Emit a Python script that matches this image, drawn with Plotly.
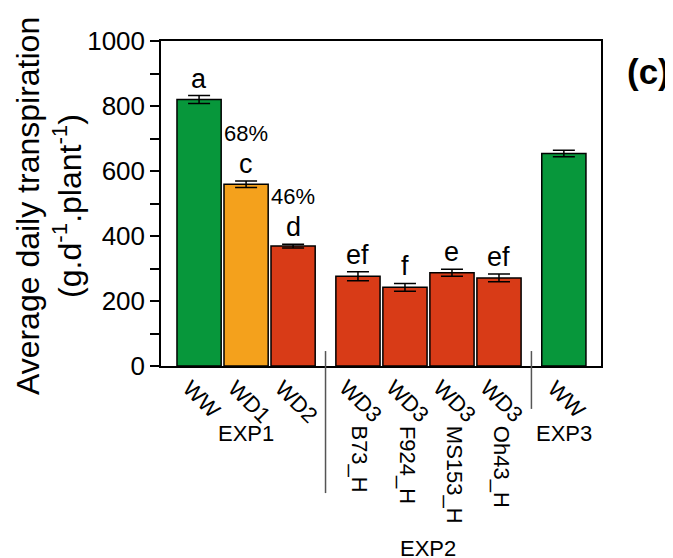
import plotly.graph_objects as go

# ---- data ----
treatments = ["WW", "WD1", "WD2", "WD3", "WD3", "WD3", "WD3", "WW"]
genotypes = ["", "", "", "B73_H", "F924_H", "MS153_H", "Oh43_H", ""]
experiments = ["EXP1", "EXP1", "EXP1", "EXP2", "EXP2", "EXP2", "EXP2", "EXP3"]
transpiration = [820, 559, 369, 276, 242, 287, 271, 654]
errors = [12, 10, 6, 14, 12, 11, 12, 10]
letters = ["a", "c", "d", "ef", "f", "e", "ef", ""]
pct_labels = ["", "68%", "46%", "", "", "", "", ""]
y_ticks = [0, 200, 400, 600, 800, 1000]

# ---- layout helpers ----
FONT = "Liberation Sans, Arial, sans-serif"
color_map = {"WW": "#07973b", "WD1": "#f4a11c", "WD2": "#d83b17", "WD3": "#d83b17"}
group_gap = 0.38
groups = []
for e in experiments:
    if e not in groups:
        groups.append(e)
xpos = [i + group_gap * groups.index(e) for i, e in enumerate(experiments)]

fig = go.Figure()
fig.add_trace(go.Bar(
    x=xpos, y=transpiration, width=0.94,
    marker=dict(color=[color_map[t] for t in treatments],
                line=dict(color="black", width=1.5)),
    error_y=dict(type="data", array=errors, visible=True,
                 color="black", thickness=1.5, width=11),
    hoverinfo="skip",
))

ann = []
# significance letters and percentages
for x, v, e, l, p in zip(xpos, transpiration, errors, letters, pct_labels):
    if l:
        ann.append(dict(x=x, y=v + e, text=l, showarrow=False, xanchor="center",
                        yanchor="bottom", yshift=0, font=dict(size=27, color="black", family=FONT)))
    if p:
        ann.append(dict(x=x, y=v + e, text=p, showarrow=False, xanchor="center",
                        yanchor="bottom", yshift=33, font=dict(size=22, color="black", family=FONT)))
# rotated treatment labels
for x, t in zip(xpos, treatments):
    ann.append(dict(x=x, y=-0.02, yref="paper", text=t, textangle=45, showarrow=False,
                    xanchor="center", yanchor="top", xshift=3,
                    font=dict(size=22, color="black", family=FONT)))
# genotype labels
for x, g in zip(xpos, genotypes):
    if g:
        ann.append(dict(x=x, y=-0.178, yref="paper", text=g, textangle=90, showarrow=False,
                        xanchor="center", yanchor="top", xshift=2,
                        font=dict(size=22, color="black", family=FONT)))
# experiment labels
for gname in groups:
    xs = [x for x, e in zip(xpos, experiments) if e == gname]
    yy = -0.563 if gname == "EXP2" else -0.209
    ann.append(dict(x=sum(xs) / len(xs), y=yy, yref="paper", text=gname, showarrow=False,
                    xanchor="center", yanchor="middle",
                    font=dict(size=22, color="black", family=FONT)))
# y-axis title
ann.append(dict(x=-0.2545, y=0.492, xref="paper", yref="paper",
                text="Average daily transpiration<br>(g.d<sup>-1</sup>.plant<sup>-1</sup>)",
                textangle=-90, showarrow=False, xanchor="center", yanchor="middle",
                font=dict(size=32, color="black", family=FONT)))
# panel label
ann.append(dict(x=1.107, y=0.905, xref="paper", yref="paper", text="<b>(c)</b>",
                showarrow=False, xanchor="center", yanchor="middle",
                font=dict(size=35, color="black", family=FONT)))

# group separators
shapes = []
sep_bottoms = [-0.391, -0.132]
for k in range(len(groups) - 1):
    last = max(x for x, e in zip(xpos, experiments) if e == groups[k])
    first = min(x for x, e in zip(xpos, experiments) if e == groups[k + 1])
    xs = (last + first) / 2
    shapes.append(dict(type="line", xref="x", yref="paper", x0=xs, x1=xs,
                       y0=0.046, y1=sep_bottoms[k], line=dict(color="#555555", width=1.5)))

# page body has an 8px margin: figure is sized to fit the 673x558 window
fig.update_layout(
    width=665, height=550,
    margin=dict(l=153, r=72, t=33, b=192),
    plot_bgcolor="white", paper_bgcolor="white",
    showlegend=False,
    annotations=ann, shapes=shapes,
    xaxis=dict(range=[-0.81, 8.55], showticklabels=False, ticks="",
               showgrid=False, zeroline=False, showline=True, linecolor="black",
               linewidth=1.5, mirror=True),
    yaxis=dict(range=[0, 1000], tickvals=y_ticks, ticks="outside", ticklen=9,
               tickwidth=1.5, tickcolor="black",
               minor=dict(dtick=100, ticks="outside", ticklen=9, tickwidth=1.5, tickcolor="black"),
               showgrid=False, zeroline=False, showline=True, linecolor="black",
               linewidth=1.5, mirror=True,
               tickfont=dict(size=26, color="black", family=FONT)),
)

fig.write_html("out.html")
